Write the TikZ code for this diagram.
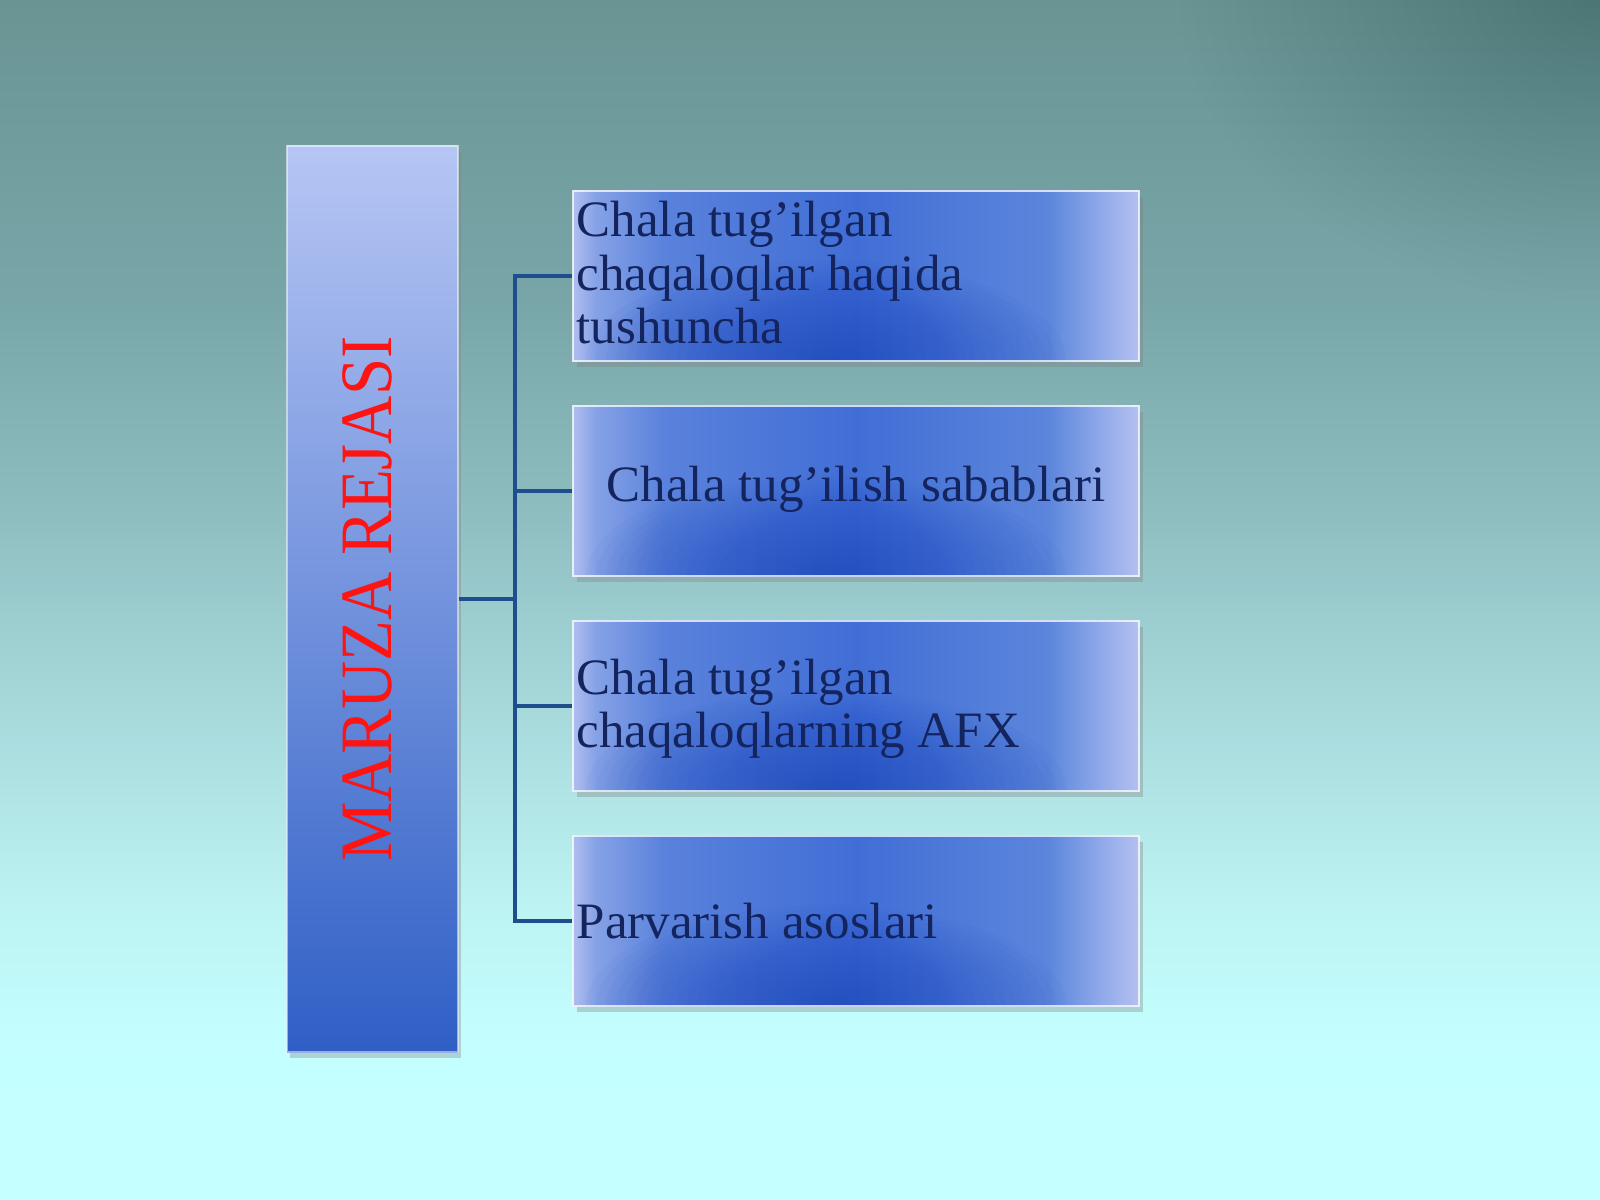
\documentclass[tikz,border=0pt]{standalone}
\usepackage{fontspec}
\setmainfont{Liberation Serif}
\newfontfamily\titlefont[FakeStretch=0.905]{Liberation Serif}
\usetikzlibrary{shadows}
\definecolor{bg0}{HTML}{6A9494}
\definecolor{bg1}{HTML}{78A6A8}
\definecolor{bg2}{HTML}{8DBCBF}
\definecolor{bg3}{HTML}{A6D8DA}
\definecolor{bg4}{HTML}{BCF2F2}
\definecolor{bg5}{HTML}{C4FFFF}
\definecolor{bg6}{HTML}{C6FFFF}
\definecolor{vign}{HTML}{3A5C5C}
\definecolor{bxL}{HTML}{B0BEF0}
\definecolor{bxA}{HTML}{86A2E6}
\definecolor{bxB}{HTML}{5A82DC}
\definecolor{bxM}{HTML}{416ED6}
\definecolor{bxC}{HTML}{5C86DC}
\definecolor{bxD}{HTML}{94ACEA}
\definecolor{bxR}{HTML}{B4C0F2}
\definecolor{darkb}{HTML}{1C48BE}
\definecolor{ltop}{HTML}{B6C6F4}
\definecolor{lbot}{HTML}{2F5FC6}
\definecolor{navy}{HTML}{14245E}
\definecolor{conn}{HTML}{1F4E8C}
\definecolor{titlered}{HTML}{FF1414}
% vertical shading: 25bp = bottom of path, 75bp = top (1200 px -> 50bp)
\pgfdeclareverticalshading{bgshade}{100bp}{color(0bp)=(bg6); color(25bp)=(bg6); color(31.25bp)=(bg5); color(37.5bp)=(bg4); color(45.83bp)=(bg3); color(54.17bp)=(bg2); color(62.5bp)=(bg1); color(75bp)=(bg0); color(100bp)=(bg0)}
\pgfdeclarehorizontalshading{boxshade}{100bp}{color(0bp)=(bxL); color(25bp)=(bxL); color(27bp)=(bxA); color(33bp)=(bxB); color(50bp)=(bxM); color(67bp)=(bxC); color(72bp)=(bxD); color(75bp)=(bxR); color(100bp)=(bxR)}
\tikzset{
  itembox/.style={rectangle, minimum width=56.6mm, minimum height=17mm, inner sep=0pt,
    shading=boxshade, draw=white, draw opacity=0.75, line width=0.5pt,
    drop shadow={shadow xshift=0.4mm, shadow yshift=-0.6mm, opacity=0.35},
    path picture={\foreach \i in {1,...,24}{\fill[darkb, opacity=0.038]
      ([xshift=-3mm]path picture bounding box.south) ellipse ({1.0mm*\i} and {0.42mm*\i});}}},
  titlebox/.style={rectangle, minimum width=17.1mm, minimum height=90.6mm, inner sep=0pt,
    top color=ltop, bottom color=lbot, draw=white, draw opacity=0.5, line width=0.5pt,
    drop shadow={shadow xshift=0.3mm, shadow yshift=-0.6mm, opacity=0.35}},
  itemtext/.style={text=navy, inner sep=0pt, font=\fontsize{14.5}{15.2}\selectfont, align=left},
  titletext/.style={text=titlered, inner sep=0pt, font=\titlefont\fontsize{21}{24}\selectfont, rotate=90},
  connline/.style={draw=conn, line width=0.9pt}
}
\begin{document}
\begin{tikzpicture}[x=0.01cm, y=-0.01cm]
\useasboundingbox (0,0) rectangle (1600,1200);
\shade[shading=bgshade] (0,0) rectangle (1600,1200);
\begin{scope}
  \clip (0,0) rectangle (1600,1200);
  \foreach \i in {1,...,30}{\fill[vign, opacity=0.011] (1600,0) ellipse ({14*\i} and {10*\i});}
\end{scope}

\node[titlebox] (L) at (372.5,599) {};
\node[titletext] (title) at (367.5,599) {MARUZA REJASI};

\node[itembox] (b1) at (856,276) {};
\node[itembox] (b2) at (856,491) {};
\node[itembox] (b3) at (856,706) {};
\node[itembox] (b4) at (856,921) {};

\node[itemtext, anchor=west] (t1) at (576,273) {Chala tug’ilgan\\chaqaloqlar haqida\\tushuncha};
\node[itemtext] (t2) at (856,489) {Chala tug’ilish sabablari};
\node[itemtext, anchor=west] (t3) at (576,709) {Chala tug’ilgan\\chaqaloqlarning AFX};
\node[itemtext, anchor=west] (t4) at (576,921) {Parvarish asoslari};

\coordinate (trunk) at (515,599);
\draw[connline] (L.east) -- (trunk);
\draw[connline] (b1.west) -- (b1.west -| trunk) -- (b4.west -| trunk) -- (b4.west);
\draw[connline] (b2.west) -- (b2.west -| trunk);
\draw[connline] (b3.west) -- (b3.west -| trunk);
\end{tikzpicture}
\end{document}
